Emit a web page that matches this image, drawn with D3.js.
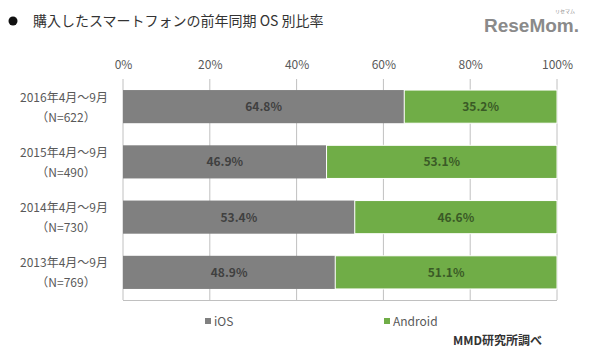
<!DOCTYPE html>
<html><head><meta charset="utf-8">
<script src="https://cdn.jsdelivr.net/npm/d3@7"></script>
<style>body{margin:0;background:#fff}svg{display:block}</style>
</head><body>
<script>
const categories = ["2016年4月～9月|（N=622）", "2015年4月～9月|（N=490）", "2014年4月～9月|（N=730）", "2013年4月～9月|（N=769）"];
const iosValues = [64.8, 46.9, 53.4, 48.9];
const androidValues = [35.2, 53.1, 46.6, 51.1];
const seriesNames = ["iOS", "Android"];
const tickValues = [0, 20, 40, 60, 80, 100];

const W = 593, H = 353;
const font = "'Noto Sans CJK JP', 'Noto Sans', sans-serif";
const svg = d3.select("body").append("svg").attr("width", W).attr("height", H).style("font-family", font);

const x = d3.scaleLinear().domain([0, 100]).range([123, 557]);
const y = d3.scaleBand().domain(categories).range([79, 300]).paddingInner(0.4).paddingOuter(0.2);

// title
svg.append("circle").attr("cx", 13).attr("cy", 21).attr("r", 4.5).attr("fill", "#111");
svg.append("text").attr("x", 33).attr("y", 26).attr("font-size", 14).attr("fill", "#333")
  .text("購入したスマートフォンの前年同期 OS 別比率");

// logo
svg.append("text").attr("x", 484).attr("y", 32).attr("font-size", 19).attr("font-weight", "bold")
  .attr("fill", "#8a8a8a").attr("font-family", "'Liberation Sans', Arial, sans-serif")
  .text("ReseMom.");
svg.append("text").attr("x", 565).attr("y", 13).attr("font-size", 5).attr("fill", "#8a8a8a")
  .attr("text-anchor", "middle").text("リセマム");

// grid
const g = svg.append("g");
g.selectAll("line.grid").data(tickValues).join("line")
  .attr("x1", d => x(d)).attr("x2", d => x(d)).attr("y1", 79).attr("y2", 300)
  .attr("stroke", "#c0c0c0").attr("stroke-width", 1);
g.append("line").attr("x1", x(0)).attr("x2", x(100)).attr("y1", 300.5).attr("y2", 300.5)
  .attr("stroke", "#c0c0c0");

// top axis labels
const axis = d3.axisTop(x).tickValues(tickValues).tickFormat(d => d + "%").tickSize(0).tickPadding(0);
const ax = svg.append("g").attr("transform", "translate(0,69)").call(axis);
ax.select(".domain").remove();
ax.selectAll("text").attr("font-size", 12).attr("fill", "#595959").attr("font-family", font);

// bars
const rows = categories.map((c, i) => ({c, ios: iosValues[i], and: androidValues[i]}));
const bars = svg.append("g");
bars.selectAll("rect.ios").data(rows).join("rect")
  .attr("x", x(0)).attr("y", d => y(d.c)).attr("width", d => x(d.ios) - x(0)).attr("height", y.bandwidth())
  .attr("fill", "#808080");
bars.selectAll("rect.and").data(rows).join("rect")
  .attr("x", d => x(d.ios)).attr("y", d => y(d.c)).attr("width", d => x(d.ios + d.and) - x(d.ios)).attr("height", y.bandwidth())
  .attr("fill", "#70ad47").attr("stroke", "#fff").attr("stroke-width", 1);
bars.selectAll("text.ios").data(rows).join("text")
  .attr("x", d => (x(0) + x(d.ios)) / 2).attr("y", d => y(d.c) + y.bandwidth() / 2 + 4.5)
  .attr("text-anchor", "middle").attr("font-size", 12).attr("font-weight", "bold").attr("fill", "#404040")
  .text(d => d.ios.toFixed(1) + "%");
bars.selectAll("text.and").data(rows).join("text")
  .attr("x", d => (x(d.ios) + x(d.ios + d.and)) / 2).attr("y", d => y(d.c) + y.bandwidth() / 2 + 4.5)
  .attr("text-anchor", "middle").attr("font-size", 12).attr("font-weight", "bold").attr("fill", "#3a5a26")
  .text(d => d.and.toFixed(1) + "%");

// category labels
const cl = svg.append("g").selectAll("text").data(categories).join("text")
  .attr("text-anchor", "middle").attr("font-size", 12).attr("fill", "#595959");
cl.append("tspan").attr("x", 64).attr("y", d => y(d) + y.bandwidth() / 2 - 5).text(d => d.split("|")[0]);
cl.append("tspan").attr("x", 66).attr("y", d => y(d) + y.bandwidth() / 2 + 15).text(d => d.split("|")[1]);

// legend
const legX = [205, 384];
const colors = ["#808080", "#70ad47"];
seriesNames.forEach((n, i) => {
  svg.append("rect").attr("x", legX[i]).attr("y", 318).attr("width", 6).attr("height", 6).attr("fill", colors[i]);
  svg.append("text").attr("x", legX[i] + 9).attr("y", 326).attr("font-size", 12).attr("fill", "#595959").text(n);
});

svg.append("text").attr("x", 453).attr("y", 345).attr("font-size", 12).attr("font-weight", "bold").attr("fill", "#333")
  .text("MMD研究所調べ");
</script>
</body></html>
